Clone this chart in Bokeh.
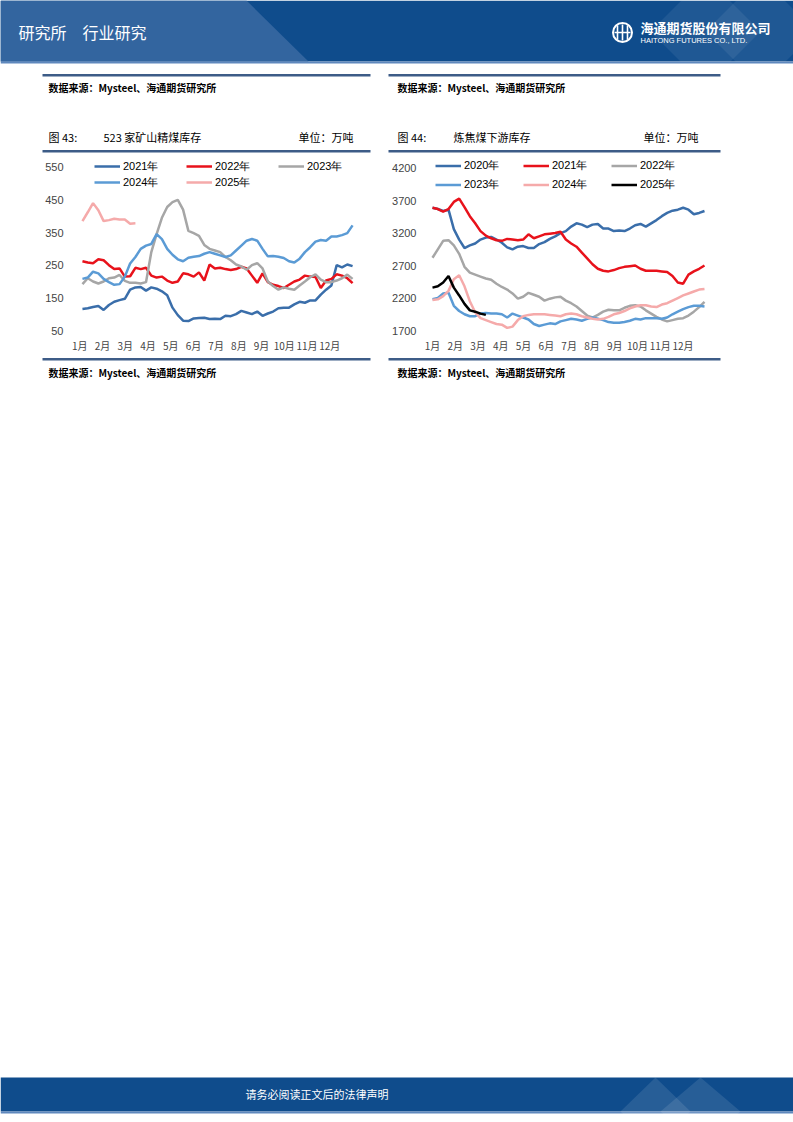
from bokeh.plotting import figure
from bokeh.models import Range1d, FixedTicker, Legend, LegendItem, Spacer
from bokeh.layouts import column, row
from bokeh.embed import file_html
from bokeh.resources import INLINE
from bokeh.core.properties import value

# ---------------- data ----------------
months = ["1月", "2月", "3月", "4月", "5月", "6月", "7月", "8月", "9月", "10月", "11月", "12月"]

# Chart 43: 523 家矿山精煤库存 (万吨), weekly
mine_2021 = [116, 118, 122, 125, 113, 128, 138, 143, 147, 175, 182, 183, 172, 182, 178, 170, 158, 120, 97, 80,
             79, 87, 88, 89, 85, 86, 85, 95, 94, 100, 110, 105, 100, 108, 95, 102, 108, 118, 120, 120,
             130, 138, 135, 142, 142, 160, 175, 188, 250, 243, 252, 247]
mine_2022 = [262, 258, 256, 268, 265, 250, 238, 240, 215, 216, 242, 238, 242, 218, 212, 215, 203, 196, 200, 225,
             222, 215, 228, 203, 252, 240, 242, 238, 235, 238, 245, 240, 218, 196, 225, 198, 190, 186, 180, 190,
             200, 206, 218, 215, 214, 180, 203, 208, 222, 218, 210, 195]
mine_2023 = [192, 210, 200, 194, 200, 210, 212, 220, 202, 196, 196, 194, 198, 290, 345, 395, 428, 443, 450, 420,
             355, 348, 340, 312, 300, 295, 290, 275, 265, 252, 246, 236, 250, 256, 240, 200, 186, 175, 182, 178,
             175, 188, 200, 213, 222, 206, 198, 198, 203, 210, 221, 208]
mine_2024 = [208, 212, 230, 225, 208, 198, 190, 192, 215, 255, 275, 300, 310, 315, 345, 330, 300, 282, 268, 262,
             273, 276, 278, 285, 290, 285, 280, 275, 280, 295, 310, 325, 330, 325, 300, 277, 278, 276, 272, 262,
             258, 270, 290, 305, 322, 327, 325, 338, 338, 342, 348, 372]
mine_2025 = [385, 412, 440, 418, 385, 388, 392, 390, 390, 377, 378]

# Chart 44: 炼焦煤下游库存 (万吨), weekly
down_2020 = [3590, 3570, 3540, 3560, 3260, 3100, 2970, 3010, 3040, 3100, 3130, 3140, 3100, 3050, 2980, 2950, 2990,
             3000, 2970, 2970, 3030, 3060, 3110, 3150, 3200, 3230, 3300, 3350, 3330, 3290, 3330, 3340, 3270, 3270,
             3230, 3240, 3230, 3270, 3320, 3340, 3300, 3350, 3400, 3460, 3510, 3545, 3560, 3590, 3560, 3490, 3510, 3540]
down_2021 = [3590, 3570, 3530, 3570, 3680, 3730, 3600, 3460, 3350, 3230, 3160, 3120, 3090, 3080, 3110, 3100, 3090,
             3100, 3180, 3120, 3150, 3180, 3190, 3200, 3220, 3100, 3040, 2990, 2900, 2810, 2720, 2650, 2620, 2610,
             2630, 2660, 2680, 2690, 2700, 2650, 2620, 2620, 2620, 2610, 2600, 2540, 2440, 2420, 2560, 2610, 2650, 2700]
down_2022 = [2820, 2950, 3080, 3090, 3010, 2880, 2680, 2590, 2560, 2530, 2500, 2480, 2420, 2370, 2330, 2270, 2190,
             2220, 2280, 2250, 2220, 2160, 2190, 2210, 2220, 2160, 2120, 2070, 2000, 1930, 1900, 1940, 1990, 2020,
             2010, 2010, 2050, 2080, 2090, 2070, 2010, 1960, 1910, 1870, 1840, 1860, 1880, 1890, 1930, 1990, 2060, 2140]
down_2023 = [2180, 2200, 2270, 2280, 2080, 2000, 1950, 1920, 1920, 1960, 1970, 1960, 1960, 1950, 1900, 1960, 1930,
             1900, 1870, 1800, 1770, 1790, 1810, 1800, 1840, 1860, 1880, 1870, 1850, 1880, 1900, 1880, 1860, 1830,
             1820, 1820, 1830, 1850, 1880, 1870, 1890, 1890, 1890, 1880, 1900, 1950, 1990, 2030, 2060, 2080, 2080, 2070]
down_2024 = [2170, 2180, 2230, 2310, 2490, 2550, 2380, 2150, 1980, 1890, 1860, 1830, 1800, 1790, 1740, 1760, 1860,
             1920, 1940, 1950, 1950, 1950, 1940, 1930, 1920, 1950, 1960, 1950, 1920, 1900, 1880, 1870, 1880, 1910,
             1950, 1970, 2000, 2040, 2070, 2090, 2090, 2070, 2060, 2100, 2120, 2160, 2200, 2240, 2270, 2300, 2330, 2340]
down_2025 = [2360, 2380, 2440, 2540, 2360, 2240, 2110, 2010, 1990, 1960, 1940]

mine_ticks = [50, 150, 250, 350, 450, 550]
down_ticks = [1700, 2200, 2700, 3200, 3700, 4200]

# ---------------- styles ----------------
CJK = "Noto Sans CJK SC"
NUM = "Liberation Sans"
NAVY = "#0f4c8c"
RULE = "#3d5c87"
C_DARKBLUE = "#3a6eaa"
C_RED = "#e8121b"
C_GRAY = "#a6a6a6"
C_LIGHTBLUE = "#5b9bd5"
C_PINK = "#f5aaaa"
C_BLACK = "#000000"

PAGE_W = 793


def canvas(y_top, y_bot):
    p = figure(width=PAGE_W, height=int(y_bot - y_top), x_range=Range1d(0, PAGE_W), y_range=Range1d(y_bot, y_top),
               output_backend="svg", toolbar_location=None, min_border=0,
               x_axis_location=None, y_axis_location=None)
    p.grid.visible = False
    p.outline_line_color = None
    p.background_fill_color = "white"
    p.border_fill_color = "white"
    return p


def txt(p, x, y, s, size, color="#000000", align="left", font=CJK, style="normal"):
    p.text(x=[x], y=[y], text=[s], text_font=value(font), text_font_size=size, text_color=color,
           text_align=align, text_baseline="middle", text_font_style=style)


# ---------------- top canvas: header + panel titles ----------------
top = canvas(0, 153)
top.quad(left=[0], right=[800], top=[0], bottom=[61], fill_color=NAVY, line_color=None)
top.patch(x=[0, 246, 308, 0], y=[0, 0, 61, 61], fill_color="#33659f", line_color=None)
top.patch(x=[650, 705, 760, 705], y=[31, -24, 31, 86], fill_color="#ffffff", fill_alpha=0.07, line_color=None)
top.patch(x=[705, 760, 815, 760], y=[31, -24, 31, 86], fill_color="#ffffff", fill_alpha=0.07, line_color=None)
top.quad(left=[0], right=[800], top=[61], bottom=[63], fill_color="#5f88bd", line_color=None)
txt(top, 18, 31, "研究所", "16px", "#ffffff")
txt(top, 82, 31, "行业研究", "16px", "#ffffff")
# logo
top.circle(x=[622], y=[32], radius=9.5, fill_color=None, line_color="#ffffff", line_width=2)
top.multi_line(xs=[[617, 617], [622, 622], [627, 627], [614, 630]], ys=[[25, 39], [24, 40], [25, 39], [32, 32]],
               line_color="#ffffff", line_width=1.6)
txt(top, 640, 27, "海通期货股份有限公司", "13px", "#ffffff", style="bold")
txt(top, 640, 40, "HAITONG FUTURES CO., LTD.", "7.5px", "#ffffff", font=NUM)

for (x0, x1) in [(42, 370), (388, 720)]:
    top.quad(left=[x0], right=[x1], top=[73.5], bottom=[76], fill_color=RULE, line_color=None)
    top.quad(left=[x0], right=[x1], top=[149.5], bottom=[152], fill_color=RULE, line_color=None)

txt(top, 48, 87, "数据来源：Mysteel、海通期货研究所", "10px", style="bold")
txt(top, 397, 87, "数据来源：Mysteel、海通期货研究所", "10px", style="bold")
txt(top, 48, 136.5, "图 43:", "11px")
txt(top, 103, 136.5, "523 家矿山精煤库存", "11px")
txt(top, 353, 136.5, "单位：万吨", "11px", align="right")
txt(top, 397, 136.5, "图 44:", "11px")
txt(top, 453, 136.5, "炼焦煤下游库存", "11px")
txt(top, 698, 136.5, "单位：万吨", "11px", align="right")


# ---------------- charts ----------------
def chart(width, mb_left, mb_right, mb_bottom, xr, yr, yticks, xticks, series, leg_loc, leg_colw, leg_rowh):
    p = figure(width=width, height=204, x_range=Range1d(*xr), y_range=Range1d(*yr),
               output_backend="svg", toolbar_location=None,
               min_border_left=mb_left, min_border_right=mb_right, min_border_top=2, min_border_bottom=mb_bottom)
    p.grid.visible = False
    p.outline_line_color = None
    p.background_fill_color = "white"
    p.border_fill_color = "white"
    for ax in (p.xaxis[0], p.yaxis[0]):
        ax.axis_line_color = None
        ax.major_tick_line_color = None
        ax.minor_tick_line_color = None
    p.yaxis.ticker = FixedTicker(ticks=yticks)
    p.yaxis.major_label_text_font = NUM
    p.yaxis.major_label_text_font_size = "11px"
    p.yaxis.major_label_standoff = 4
    p.xaxis.ticker = FixedTicker(ticks=xticks)
    p.xaxis.major_label_overrides = {t: m for t, m in zip(xticks, months)}
    p.xaxis.major_label_text_font = CJK
    p.xaxis.major_label_text_font_size = "10px"
    p.xaxis.major_label_standoff = 1
    items = []
    for label, vals, color in series:
        r = p.line(x=list(range(len(vals))), y=vals, line_color=color, line_width=2.5)
        items.append(LegendItem(label=label, renderers=[r]))
    leg = Legend(items=items, orientation="horizontal", ncols=3, location=leg_loc,
                 glyph_width=26, glyph_height=leg_rowh, label_height=leg_rowh, label_width=leg_colw - 29,
                 label_standoff=3, spacing=0, padding=0, margin=0,
                 border_line_alpha=0, background_fill_alpha=0,
                 label_text_font=NUM, label_text_font_size="11px", label_text_color="#000000")
    p.add_layout(leg)
    return p


left_xticks = [round(-0.5 + 4.29 * i, 2) for i in range(12)]
right_xticks = [round(4.27 * i, 2) for i in range(12)]

p1 = chart(328, 30, 5, 27, (-1.69, 53.44), (50, 585.8), mine_ticks, left_xticks,
           [("2021年", mine_2021, C_DARKBLUE), ("2022年", mine_2022, C_RED), ("2023年", mine_2023, C_GRAY),
            ("2024年", mine_2024, C_LIGHTBLUE), ("2025年", mine_2025, C_PINK)],
           (21, 140), 92, 16)

p2 = chart(332, 38, 4, 26, (-1.125, 53.25), (1700, 4394), down_ticks, right_xticks,
           [("2020年", down_2020, C_DARKBLUE), ("2021年", down_2021, C_RED), ("2022年", down_2022, C_GRAY),
            ("2023年", down_2023, C_LIGHTBLUE), ("2024年", down_2024, C_PINK), ("2025年", down_2025, C_BLACK)],
           (9, 136), 88, 19)

# ---------------- bottom canvas: rules, sources, footer ----------------
bot = canvas(357, 1122)
for (x0, x1) in [(42, 370), (388, 720)]:
    bot.quad(left=[x0], right=[x1], top=[357.5], bottom=[360], fill_color=RULE, line_color=None)
txt(bot, 48, 371.5, "数据来源：Mysteel、海通期货研究所", "10px", style="bold")
txt(bot, 397, 371.5, "数据来源：Mysteel、海通期货研究所", "10px", style="bold")
bot.quad(left=[0], right=[800], top=[1077], bottom=[1111], fill_color=NAVY, line_color=None)
bot.quad(left=[0], right=[800], top=[1111], bottom=[1113], fill_color="#5f88bd", line_color=None)
bot.patch(x=[620, 655, 690, 655], y=[1111, 1077, 1111, 1145], fill_color="#ffffff", fill_alpha=0.1, line_color=None)
bot.patch(x=[660, 700, 740, 700], y=[1111, 1077, 1111, 1145], fill_color="#ffffff", fill_alpha=0.1, line_color=None)
txt(bot, 245, 1093.5, "请务必阅读正文后的法律声明", "11px", "#ffffff")

layout = column(top,
                row(Spacer(width=42, height=204), p1, Spacer(width=18, height=204), p2,
                    Spacer(width=PAGE_W - 720, height=204)),
                bot)

open("out.html", "w").write(file_html(layout, INLINE))
